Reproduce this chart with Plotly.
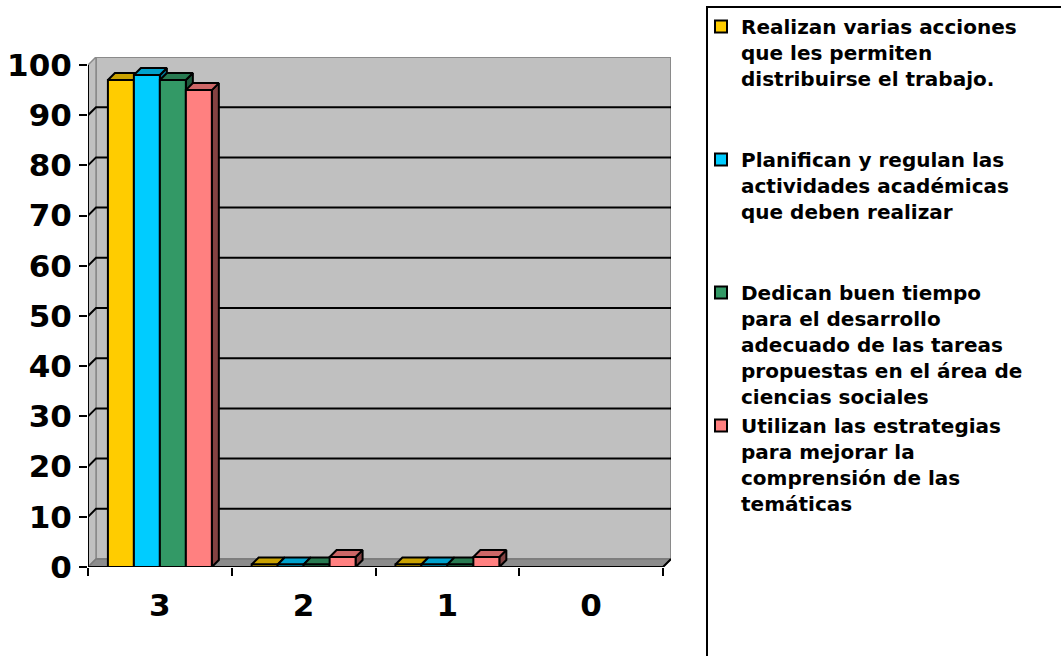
import plotly.graph_objects as go

# ---- data ---------------------------------------------------------------
categories = ["3", "2", "1", "0"]
series_names = [
    "Realizan varias acciones<br>que les permiten<br>distribuirse el trabajo.",
    "Planifican y regulan las<br>actividades académicas<br>que deben realizar",
    "Dedican buen tiempo<br>para el desarrollo<br>adecuado de las tareas<br>propuestas en el área de<br>ciencias sociales",
    "Utilizan las estrategias<br>para mejorar la<br>comprensión de las<br>temáticas",
]
realizan = [97, 0.5, 0.5, None]
planifican = [98, 0.5, 0.5, None]
dedican = [97, 0.5, 0.5, None]
utilizan = [95, 2, 2, None]
y_ticks = [0, 10, 20, 30, 40, 50, 60, 70, 80, 90, 100]

series_values = [realizan, planifican, dedican, utilizan]
front_colors = ["#FFCC00", "#00CCFF", "#339966", "#FF8080"]
top_colors = ["#C9A100", "#00A1CC", "#287A51", "#CC6666"]
side_colors = ["#967800", "#007799", "#1E5B3C", "#844242"]

# ---- geometry (pixels of the page) --------------------------------------
W, H = 1061, 656
PLOT_L, PLOT_R, PLOT_T, PLOT_B = 88, 671, 57, 567
PLOT_W = PLOT_R - PLOT_L
PLOT_H = PLOT_B - PLOT_T
WALL_PX = 8       # depth of the back wall
BAR_PX = 7        # depth of each column
BARGAP = 0.277


def paper_x(px):
    return px / W


def paper_y(py):
    return (H - py) / H


n_cat = len(categories)
px_x = (PLOT_W - WALL_PX) / n_cat
px_y = (PLOT_H - WALL_PX) / 100.0
wdx, wdy = WALL_PX / px_x, WALL_PX / px_y
bdx, bdy = BAR_PX / px_x, BAR_PX / px_y

x_lo, x_hi = -0.5, n_cat - 0.5
x_range = [x_lo, x_hi + wdx]
y_range = [0, 100 + wdy]
x_domain = [paper_x(PLOT_L), paper_x(PLOT_R)]
y_domain = [paper_y(PLOT_B), paper_y(PLOT_T)]

FONT = "DejaVu Sans"
fig = go.Figure()

# ---- 3D faces of the columns (right sides and tops) ---------------------
n_ser = len(series_values)
bar_w = (1 - BARGAP) / n_ser
for i, vals in enumerate(series_values):
    off = -(1 - BARGAP) / 2 + i * bar_w
    sx, sy, tx, ty = [], [], [], []
    for c, v in enumerate(vals):
        if v is None:
            continue
        x0, x1 = c + off, c + off + bar_w
        sx += [x1, x1, x1 + bdx, x1 + bdx, x1, None]
        sy += [0, v, v + bdy, bdy, 0, None]
        tx += [x0, x1, x1 + bdx, x0 + bdx, x0, None]
        ty += [v, v, v + bdy, v + bdy, v, None]
    for xs, ys, col in ((sx, sy, side_colors[i]), (tx, ty, top_colors[i])):
        fig.add_trace(go.Scatter(
            x=xs, y=ys, mode="lines", fill="toself", fillcolor=col,
            line=dict(color="black", width=2), showlegend=False,
            hoverinfo="skip", xaxis="x", yaxis="y"))

# ---- front faces of the columns (drawn on top) --------------------------
max_lines = max(n.count("<br>") + 1 for n in series_names)
for i, vals in enumerate(series_values):
    name = series_names[i]
    # every legend entry takes the same height
    name += "<br> " * (max_lines - (name.count("<br>") + 1))
    fig.add_trace(go.Bar(
        x=list(range(n_cat)), y=vals, name=name,
        marker=dict(color=front_colors[i], line=dict(color="black", width=2)),
        xaxis="x2", yaxis="y2"))

# ---- walls, floor and gridlines ----------------------------------------
shapes = []
shapes.append(dict(type="rect", xref="x", yref="y", layer="below",
                   x0=x_lo + wdx, x1=x_hi + wdx, y0=wdy, y1=100 + wdy,
                   fillcolor="#C0C0C0", line=dict(color="#8A8A8A", width=2)))
shapes.append(dict(type="path", xref="x", yref="y", layer="below",
                   path=f"M{x_lo},0 L{x_lo},100 L{x_lo + wdx},{100 + wdy} L{x_lo + wdx},{wdy} Z",
                   fillcolor="#C0C0C0", line=dict(color="#8A8A8A", width=1.5)))
shapes.append(dict(type="path", xref="x", yref="y", layer="below",
                   path=f"M{x_lo},0 L{x_hi},0 L{x_hi + wdx},{wdy} L{x_lo + wdx},{wdy} Z",
                   fillcolor="#8C8C8C", line=dict(color="#7A7A7A", width=1.5)))
for v in y_ticks[1:-1]:
    shapes.append(dict(type="path", xref="x", yref="y", layer="below",
                       path=f"M{x_lo},{v} L{x_lo + wdx},{v + wdy} L{x_hi + wdx},{v + wdy}",
                       line=dict(color="black", width=2)))
# front axis lines
shapes.append(dict(type="line", xref="x", yref="y", layer="below",
                   x0=x_lo, x1=x_lo, y0=0, y1=100, line=dict(color="black", width=2)))
shapes.append(dict(type="path", xref="x", yref="y", layer="below",
                   path=f"M{x_lo},0 L{x_hi},0 L{x_hi + wdx},{wdy}",
                   line=dict(color="black", width=2)))
# legend frame: left and top edges (the box runs past the page edges)
FRAME_L, FRAME_T = 707, 7
shapes.append(dict(type="path", xref="paper", yref="paper", layer="above",
                   path=(f"M{paper_x(FRAME_L)},{paper_y(H)} "
                         f"L{paper_x(FRAME_L)},{paper_y(FRAME_T)} "
                         f"L{paper_x(W)},{paper_y(FRAME_T)}"),
                   line=dict(color="black", width=2)))

# top edge of the legend frame, also drawn as a plain connector line
frame_top = dict(xref="paper", yref="paper", axref="pixel", ayref="pixel",
                 x=paper_x(W), y=paper_y(FRAME_T),
                 ax=-(W - FRAME_L), ay=0,
                 text="", showarrow=True, arrowhead=0, arrowwidth=2,
                 arrowcolor="black", standoff=0, startstandoff=0)

tick_font = dict(family=FONT, size=31, color="black", weight="bold")
axis_common = dict(showgrid=False, zeroline=False, showline=False)
fig.update_layout(
    width=W, height=H,
    margin=dict(l=0, r=0, t=0, b=0, pad=0, autoexpand=False),
    paper_bgcolor="white", plot_bgcolor="white",
    barmode="group", bargap=BARGAP, bargroupgap=0,
    shapes=shapes,
    annotations=[frame_top],
    xaxis=dict(domain=x_domain, range=x_range, tickmode="array",
               tickvals=list(range(n_cat)), ticktext=categories,
               ticks="", ticklabelstandoff=17, tickfont=tick_font,
               minor=dict(tickmode="array",
                          tickvals=[c - 0.5 for c in range(n_cat + 1)],
                          ticks="outside", ticklen=8, tickwidth=2,
                          tickcolor="black", showgrid=False),
               **axis_common),
    yaxis=dict(domain=y_domain, range=y_range, tickmode="array",
               tickvals=y_ticks, ticks="outside", ticklen=8, tickwidth=2,
               tickcolor="black", ticklabelstandoff=1, tickfont=tick_font,
               **axis_common),
    xaxis2=dict(domain=x_domain, range=x_range, overlaying="x", visible=False),
    yaxis2=dict(domain=y_domain, range=y_range, overlaying="y", visible=False),
    legend=dict(x=paper_x(701), y=paper_y(FRAME_T),
                xanchor="left", yanchor="top", valign="top",
                bgcolor="rgba(0,0,0,0)", borderwidth=0,
                font=dict(family=FONT, size=20, color="black", weight="bold"),
                tracegroupgap=0),
    showlegend=True,
)

fig.write_html("out.html")
